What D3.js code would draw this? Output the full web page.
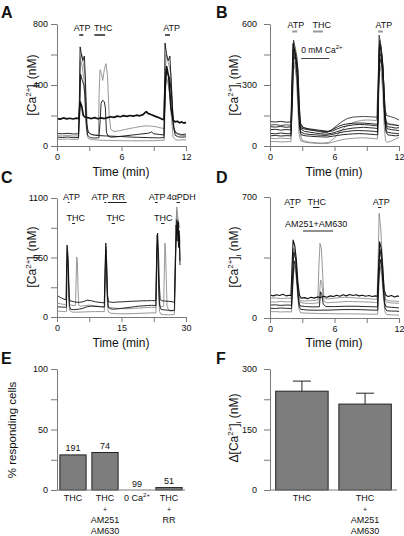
<!DOCTYPE html>
<html><head><meta charset="utf-8">
<script src="https://cdn.jsdelivr.net/npm/d3@7"></script>
<style>body{margin:0;background:#fff}svg{display:block}text{font-family:Arial,"Liberation Sans",Helvetica,sans-serif;fill:#111}</style>
</head><body>
<svg id="fig" width="404" height="536"></svg>
<script>
// ---------------- DATA ----------------
// Panel A traces [time (min), Ca (nM)]
const traceA1 = [[0,180],[0.3,176],[0.6,184],[0.9,178],[1.2,182],[1.5,177],[1.8,183],[2.05,180],[2.15,290],[2.3,260],[2.45,200],[2.6,190],[2.9,185],[3.2,180],[3.5,186],[3.8,179],[4.1,184],[4.4,180],[4.7,186],[5.0,192],[5.3,188],[5.6,196],[5.9,192],[6.2,199],[6.5,194],[6.8,200],[7.1,196],[7.4,202],[7.7,198],[8.0,206],[8.3,225],[8.5,212],[8.8,205],[9.1,196],[9.4,188],[9.7,178],[9.95,172],[10.05,400],[10.2,520],[10.4,450],[10.6,250],[10.8,170],[11.0,158],[11.2,162],[11.4,152],[11.6,158],[11.8,150],[12.0,155]];
const traceA2 = [[0,82],[0.5,80],[1.0,83],[1.5,79],[2.0,80],[2.08,300],[2.15,650],[2.25,610],[2.4,560],[2.55,590],[2.65,420],[2.75,150],[2.9,90],[3.2,75],[3.6,70],[4.0,68],[4.5,66],[5.0,65],[5.5,63],[6.0,62],[6.5,60],[7.0,58],[7.5,57],[8.0,56],[8.5,55],[9.0,54],[9.5,53],[9.95,55],[10.0,350],[10.05,675],[10.2,600],[10.35,560],[10.5,590],[10.65,380],[10.8,140],[11.0,90],[11.3,80],[11.6,75],[12,78]];
const traceA3 = [[0,68],[0.5,66],[1.0,70],[1.5,65],[2.0,67],[2.08,250],[2.15,560],[2.3,600],[2.45,540],[2.6,480],[2.7,300],[2.85,110],[3.0,85],[3.3,75],[3.6,72],[3.85,75],[3.92,350],[4.0,500],[4.15,470],[4.25,430],[4.4,500],[4.55,540],[4.7,460],[4.85,200],[5.0,110],[5.3,95],[5.8,100],[6.3,108],[6.8,115],[7.3,122],[7.8,128],[8.3,132],[8.8,130],[9.3,125],[9.7,118],[9.98,115],[10.05,400],[10.15,600],[10.3,560],[10.45,520],[10.6,470],[10.75,250],[10.9,110],[11.1,80],[11.4,72],[11.7,68],[12,70]];
const traceA4 = [[0,58],[0.5,56],[1.0,59],[1.5,55],[2.0,56],[2.1,200],[2.2,470],[2.35,430],[2.5,400],[2.6,330],[2.72,150],[2.85,70],[3.1,55],[3.5,52],[3.9,54],[4.0,150],[4.1,280],[4.25,300],[4.4,290],[4.5,250],[4.6,90],[4.75,65],[5.0,58],[5.5,60],[6.0,64],[6.5,68],[7.0,72],[7.5,76],[8.0,80],[8.5,84],[8.8,92],[9.0,80],[9.5,76],[9.95,72],[10.05,300],[10.15,500],[10.3,470],[10.5,440],[10.7,300],[10.85,120],[11.0,70],[11.3,60],[11.6,58],[12,60]];
const traceA5 = [[0,45],[0.5,44],[1.0,46],[1.5,43],[2.0,44],[2.12,280],[2.2,560],[2.35,520],[2.5,440],[2.62,260],[2.75,90],[2.9,50],[3.2,42],[3.6,40],[4.0,38],[5.0,36],[6.0,35],[7.0,34],[8.0,34],[9.0,35],[9.5,36],[9.98,38],[10.08,350],[10.2,450],[10.35,400],[10.5,330],[10.65,180],[10.8,60],[11.0,42],[11.3,38],[11.6,40],[12,41]];

// Panel B traces
const traceB1 = [[0,120],[0.5,118],[1.0,121],[1.5,117],[1.95,118],[2.05,350],[2.15,505],[2.3,470],[2.45,430],[2.6,380],[2.72,200],[2.85,110],[3.1,90],[3.5,85],[4.0,82],[4.5,78],[5.0,75],[5.4,72],[5.8,80],[6.3,95],[6.8,105],[7.3,110],[7.8,112],[8.3,113],[8.8,112],[9.3,110],[9.7,108],[10.0,108],[10.08,320],[10.18,500],[10.3,470],[10.45,420],[10.6,300],[10.72,150],[10.85,110],[11.2,105],[11.6,103],[12,100]];
const traceB2 = [[0,103],[0.5,105],[1.0,101],[1.5,104],[1.95,102],[2.05,300],[2.2,520],[2.35,480],[2.5,440],[2.65,300],[2.78,130],[2.9,95],[3.3,88],[3.8,80],[4.3,74],[4.8,68],[5.3,66],[5.7,78],[6.2,100],[6.7,120],[7.2,135],[7.7,142],[8.2,144],[8.7,145],[9.2,144],[9.6,143],[10.0,142],[10.08,350],[10.15,545],[10.3,500],[10.45,430],[10.58,300],[10.7,180],[10.85,150],[11.2,145],[11.6,138],[12,128]];
const traceB3 = [[0,95],[0.5,93],[1.0,96],[1.5,92],[1.95,94],[2.08,280],[2.18,490],[2.35,455],[2.5,400],[2.62,250],[2.75,120],[2.9,88],[3.3,82],[3.8,78],[4.3,75],[4.8,72],[5.3,70],[5.8,74],[6.3,85],[6.8,95],[7.3,100],[7.8,104],[8.3,106],[8.8,105],[9.3,103],[9.8,100],[10.02,100],[10.1,330],[10.2,520],[10.35,480],[10.5,400],[10.62,250],[10.75,120],[10.9,95],[11.3,92],[11.7,88],[12,90]];
const traceB4 = [[0,80],[0.5,82],[1.0,78],[1.5,81],[1.95,79],[2.05,250],[2.15,470],[2.3,450],[2.45,420],[2.6,330],[2.72,160],[2.85,85],[3.2,72],[3.7,68],[4.2,64],[4.7,60],[5.2,58],[5.7,62],[6.2,70],[6.7,78],[7.2,84],[7.7,88],[8.2,90],[8.7,92],[9.2,90],[9.7,88],[10.0,86],[10.08,280],[10.18,460],[10.32,440],[10.48,380],[10.6,220],[10.72,110],[10.9,85],[11.3,80],[11.7,78],[12,76]];
const traceB5 = [[0,62],[0.5,60],[1.0,64],[1.5,61],[1.95,60],[2.06,260],[2.16,500],[2.3,460],[2.48,410],[2.6,300],[2.72,140],[2.85,70],[3.2,60],[3.7,57],[4.2,55],[4.7,53],[5.2,52],[5.7,56],[6.2,62],[6.7,68],[7.2,72],[7.7,75],[8.2,76],[8.7,75],[9.2,74],[9.7,72],[10.0,70],[10.1,300],[10.2,500],[10.35,470],[10.5,380],[10.62,200],[10.75,90],[10.9,68],[11.3,64],[11.7,62],[12,60]];
const traceB6 = [[0,50],[0.5,52],[1.0,49],[1.5,51],[1.95,50],[2.08,220],[2.2,450],[2.35,420],[2.5,360],[2.62,220],[2.75,90],[2.9,55],[3.3,50],[3.8,48],[4.3,46],[4.8,45],[5.3,44],[5.8,48],[6.3,52],[6.8,56],[7.3,58],[7.8,60],[8.3,61],[8.8,60],[9.3,58],[9.8,56],[10.02,55],[10.1,260],[10.22,430],[10.38,400],[10.52,320],[10.65,160],[10.78,70],[10.95,55],[11.3,52],[11.7,50],[12,52]];
const traceB7 = [[0,38],[0.5,36],[1.0,39],[1.5,37],[1.95,36],[2.08,200],[2.2,400],[2.35,380],[2.5,330],[2.65,200],[2.8,60],[3.0,28],[3.5,20],[4.0,17],[4.5,15],[5.0,15],[5.5,18],[6.0,40],[6.5,70],[7.0,95],[7.5,110],[8.0,120],[8.5,126],[9.0,128],[9.5,127],[9.9,125],[10.05,300],[10.15,480],[10.3,450],[10.45,370],[10.58,220],[10.7,130],[10.9,115],[11.3,108],[11.7,104],[12,100]];
const traceB8 = [[0,21],[0.5,22],[1.0,20],[1.5,21],[1.95,22],[2.05,200],[2.15,430],[2.3,400],[2.45,340],[2.58,200],[2.7,60],[2.85,25],[3.3,18],[3.8,15],[4.3,13],[4.8,12],[5.3,12],[5.8,18],[6.3,26],[6.8,32],[7.3,36],[7.8,38],[8.3,40],[8.8,40],[9.3,38],[9.8,36],[10.0,35],[10.1,220],[10.2,400],[10.35,360],[10.5,260],[10.62,100],[10.75,25],[10.9,18],[11.3,25],[11.7,35],[12,42]];

// Panel C traces
const traceC1 = [[0,200],[0.8,180],[1.6,165],[2.1,160],[2.25,500],[2.35,665],[2.5,600],[2.7,400],[2.85,180],[3.0,150],[4,140],[5,135],[6,140],[7,155],[8,150],[9,140],[10,135],[11,130],[11.2,500],[11.35,684],[11.55,500],[11.75,200],[12,140],[13,135],[14,138],[15,140],[16,142],[17,145],[18,146],[19,148],[20,150],[21,150],[22,152],[23,150],[23.2,600],[23.4,776],[23.6,600],[23.8,300],[24,160],[24.5,150],[25,148],[26,145],[27,140],[27.3,130],[27.5,400],[27.7,700],[27.9,900],[28.05,760],[28.2,880],[28.35,640],[28.5,760],[28.6,520]];
const traceC2 = [[0,130],[1,120],[2,115],[2.15,115],[2.25,400],[2.35,640],[2.5,550],[2.7,300],[2.85,120],[3.2,110],[4.0,105],[4.3,108],[4.45,350],[4.6,555],[4.75,500],[4.9,250],[5.05,110],[5.5,100],[6.5,105],[7.5,110],[8.5,105],[9.5,100],[10.5,95],[11.1,95],[11.25,450],[11.4,650],[11.6,450],[11.8,150],[12,90],[13,85],[14,80],[15,78],[16,76],[17,78],[18,80],[19,82],[20,85],[21,88],[22,90],[23,88],[23.15,500],[23.35,700],[23.55,500],[23.75,200],[24,100],[24.5,95],[24.8,100],[24.95,400],[25.1,684],[25.25,600],[25.45,300],[25.6,100],[26,60],[26.5,55],[27,58],[27.35,60],[27.5,500],[27.7,800],[27.85,1017],[28.0,950],[28.2,900],[28.4,850],[28.6,820]];
const traceC3 = [[0,95],[1,92],[2,90],[2.2,90],[2.3,450],[2.4,600],[2.55,520],[2.75,250],[2.9,100],[3.2,70],[4,68],[5,72],[6,80],[7,95],[8,100],[9,98],[10,95],[11,92],[11.2,400],[11.35,620],[11.5,480],[11.7,200],[11.9,90],[12.5,75],[13,72],[14,75],[15,80],[16,85],[17,90],[18,95],[19,100],[20,103],[21,106],[22,108],[23,106],[23.15,500],[23.3,760],[23.45,620],[23.65,300],[23.85,110],[24.2,70],[25,65],[26,62],[27,60],[27.3,62],[27.5,500],[27.7,850],[27.9,700],[28.1,880],[28.25,650],[28.4,800],[28.55,560],[28.6,480]];
const traceC4 = [[0,55],[1,52],[2,50],[2.2,50],[2.3,300],[2.4,500],[2.55,450],[2.75,200],[2.9,60],[3.5,45],[5,45],[7,48],[9,50],[11,50],[11.2,300],[11.35,550],[11.5,400],[11.7,150],[11.9,50],[12.5,35],[14,30],[16,30],[18,32],[20,35],[22,38],[23,38],[23.15,400],[23.3,650],[23.45,500],[23.65,200],[23.85,50],[24.2,25],[25,22],[26,20],[27,22],[27.3,25],[27.5,400],[27.7,900],[27.85,980],[28.0,800],[28.2,700],[28.4,750],[28.6,700]];

// Panel D traces
const traceD1 = [[0,133],[0.3,128],[0.6,135],[0.9,130],[1.2,138],[1.5,128],[1.8,132],[1.95,130],[2.05,300],[2.15,451],[2.3,420],[2.45,340],[2.6,200],[2.75,130],[2.9,115],[3.2,118],[3.5,112],[3.8,120],[4.1,115],[4.4,122],[4.7,118],[5.0,126],[5.3,120],[5.6,128],[5.9,124],[6.2,132],[6.5,126],[6.8,134],[7.1,128],[7.4,136],[7.7,130],[8.0,134],[8.3,128],[8.6,132],[8.9,126],[9.2,130],[9.5,124],[9.8,128],[10.0,126],[10.1,300],[10.2,441],[10.35,400],[10.5,280],[10.62,160],[10.8,130],[11.0,124],[11.3,130],[11.6,122],[11.9,128],[12,125]];
const traceD2 = [[0,114],[0.5,116],[1.0,112],[1.5,115],[1.95,113],[2.08,250],[2.2,400],[2.35,360],[2.5,260],[2.65,130],[2.8,100],[3.2,98],[3.7,100],[4.2,102],[4.45,105],[4.55,300],[4.65,432],[4.78,400],[4.9,250],[5.0,130],[5.2,110],[5.6,112],[6.0,115],[6.5,118],[7.0,120],[7.5,118],[8.0,116],[8.5,114],[9.0,112],[9.5,110],[9.95,108],[10.05,300],[10.15,606],[10.3,520],[10.45,350],[10.6,180],[10.75,110],[11.0,100],[11.5,98],[12,96]];
const traceD3 = [[0,94],[0.5,92],[1.0,96],[1.5,93],[2.0,94],[2.1,260],[2.2,405],[2.35,370],[2.5,270],[2.65,140],[2.8,90],[3.2,85],[3.7,84],[4.2,86],[4.55,88],[4.62,150],[4.7,220],[4.8,210],[4.9,150],[5.05,95],[5.3,88],[5.8,90],[6.3,92],[6.8,94],[7.3,96],[7.8,95],[8.3,94],[8.8,93],[9.3,92],[9.8,90],[10.0,90],[10.1,280],[10.2,384],[10.35,350],[10.5,250],[10.65,130],[10.8,92],[11.2,88],[11.6,86],[12,85]];
const traceD4 = [[0,75],[0.5,76],[1.0,73],[1.5,75],[2.0,74],[2.1,250],[2.22,380],[2.38,340],[2.52,220],[2.65,100],[2.8,70],[3.3,66],[4,64],[4.6,65],[4.7,152],[4.82,140],[4.95,80],[5.2,66],[6,66],[7,68],[8,68],[9,66],[10.0,64],[10.1,260],[10.22,400],[10.38,340],[10.52,200],[10.65,90],[10.8,65],[11.3,62],[11.7,60],[12,58]];
const traceD5 = [[0,56],[0.5,55],[1.0,58],[1.5,56],[2.0,55],[2.12,200],[2.24,330],[2.4,290],[2.55,180],[2.7,70],[2.85,50],[3.5,46],[4.5,45],[5.5,46],[6.5,48],[7.5,49],[8.5,48],[9.5,46],[10.02,45],[10.12,220],[10.25,340],[10.4,290],[10.55,160],[10.7,60],[10.85,42],[11.3,40],[11.7,40],[12,38]];
const traceD6 = [[0,36],[0.5,37],[1.0,35],[1.5,36],[2.0,35],[2.12,180],[2.25,300],[2.4,260],[2.55,150],[2.7,50],[2.85,30],[3.5,28],[4.5,26],[5.5,25],[6.5,24],[7.5,24],[8.5,23],[9.5,22],[10.02,22],[10.12,180],[10.25,300],[10.4,240],[10.55,120],[10.7,35],[10.85,20],[11.3,18],[11.7,17],[12,17]];

// Drug application annotations: text centre (min), bar start/end (min), row
const annotA = [{label:"ATP",tx:2.33,t0:2.07,t1:2.45,row:0},{label:"THC",tx:4.3,t0:3.47,t1:4.47,row:0},{label:"ATP",tx:10.67,t0:10.05,t1:10.51,row:0}];
const annotB = [{label:"ATP",tx:2.4,t0:2.07,t1:2.54,row:0},{label:"THC",tx:4.82,t0:4.0,t1:4.93,row:0},{label:"ATP",tx:10.6,t0:10.05,t1:10.5,row:0}];
const annotBCa = {label:"0 mM Ca",sup:"2+",t0:2.9,t1:5.5};
const annotC = [{label:"ATP",tx:3.37,t0:2.5,t1:2.9,row:0},{label:"ATP",tx:10.0,t0:11.0,t1:11.5,row:0},{label:"RR",tx:14.3,t0:11.8,t1:16.2,row:0},{label:"ATP",tx:23.3,t0:22.8,t1:23.4,row:0},{label:"4\u03b1PDH",tx:28.9,t0:27.8,t1:28.6,row:0},{label:"THC",tx:4.38,t0:3.5,t1:4.2,row:1},{label:"THC",tx:13.65,t0:12.7,t1:13.5,row:1},{label:"THC",tx:24.7,t0:24.2,t1:25.0,row:1}];
const annotD = [{label:"ATP",tx:2.1,t0:1.9,t1:2.2,row:0},{label:"THC",tx:4.35,t0:4.0,t1:4.6,row:0},{label:"ATP",tx:10.35,t0:10.05,t1:10.35,row:0},{label:"AM251+AM630",tx:4.3,t0:3.07,t1:5.86,row:1}];

// Axis ticks
const xTicks12 = [0,3,6,9,12], xLabels12 = [0,6,12];
const xTicks30 = [0,7.5,15,22.5,30], xLabels30 = [0,15,30];
const yTicksA = [0,200,400,600,800], yLabelsA = [0,400,800];
const yTicksB = [0,150,300,450,600], yLabelsB = [0,300,600];
const yTicksC = [0,275,550,825,1100], yLabelsC = [0,550,1100];
const yTicksD = [0,350,700], yLabelsD = [0,700];

// Panel E
const catsE = ["THC","THC+AM","0Ca","THC+RR"];
const pctE = [29,31,0,2];
const nE = [191,74,99,51];
const yTicksE = [0,25,50,75,100], yLabelsE = [0,50,100];
// Panel F
const catsF = ["THC","THC+AM"];
const deltaF = [245,213];
const errF = [25,27];
const yTicksF = [0,75,150,225,300], yLabelsF = [0,150,300];

// ---------------- DRAWING ----------------
const svg = d3.select("#fig");
const AX = "#7a7a7a", GRAY = "#8c8c8c", BLACK = "#111";

function styleAxis(g){
  g.select(".domain").attr("stroke",AX).attr("stroke-width",1);
  g.selectAll(".tick line").attr("stroke",AX);
  g.selectAll(".tick text").attr("fill","#111").style("font-size","9px");
}

function yAxis(x0,y,ticks,labels,pad){
  const g = svg.append("g").attr("transform",`translate(${x0},0)`)
    .call(d3.axisLeft(y).tickValues(ticks).tickFormat(d=>labels.includes(d)?d:"").tickSize(6).tickSizeOuter(0).tickPadding(pad));
  styleAxis(g);
}
function xAxis(y1,x,ticks,labels){
  const g = svg.append("g").attr("transform",`translate(0,${y1})`)
    .call(d3.axisBottom(x).tickValues(ticks).tickFormat(d=>labels.includes(d)?d:"").tickSize(5).tickSizeOuter(0).tickPadding(3));
  styleAxis(g);
}
function caTitle(x,y,prefix){
  const t = svg.append("text").attr("transform",`translate(${x},${y}) rotate(-90)`).attr("text-anchor","middle").style("font-size","12px");
  t.append("tspan").text(prefix+"[Ca");
  t.append("tspan").text("2+").style("font-size","8px").attr("dy",-5);
  t.append("tspan").text("]").attr("dy",5);
  t.append("tspan").text("i").style("font-size","8px").attr("dy",3);
  t.append("tspan").text(" (nM)").attr("dy",-3);
}
function panelLetter(txt,x,y){
  svg.append("text").attr("x",x).attr("y",y).text(txt).style("font-size","16px").style("font-weight","bold").attr("fill","#000");
}
function timeTitle(cx,y){
  svg.append("text").attr("x",cx).attr("y",y).attr("text-anchor","middle").style("font-size","12px").text("Time (min)");
}

function tracePanel(p){
  const x = d3.scaleLinear().domain(p.xd).range([p.x0,p.x1]);
  const y = d3.scaleLinear().domain(p.yd).range([p.y1,p.y0]);
  const line = d3.line().x(d=>x(d[0])).y(d=>y(d[1]));
  const g = svg.append("g");
  p.traces.forEach(tr=>{
    g.append("path").datum(tr.data).attr("d",line).attr("fill","none")
      .attr("stroke",tr.color).attr("stroke-width",tr.w).attr("stroke-linejoin","round");
  });
  yAxis(p.x0,y,p.yt,p.yl,p.pad);
  xAxis(p.y1,x,p.xt,p.xl);
  p.annot.forEach(a=>{
    const ty = p.rowText[a.row], by = p.rowBar[a.row];
    svg.append("text").attr("x",x(a.tx)).attr("y",ty).attr("text-anchor","middle").style("font-size","9px").text(a.label);
    svg.append("line").attr("x1",x(a.t0)).attr("x2",x(a.t1)).attr("y1",by).attr("y2",by)
      .attr("stroke",p.barColor).attr("stroke-width",p.barW);
  });
  return {x,y};
}

// Panel A
tracePanel({x0:57,x1:186,y0:24,y1:146,xd:[0,12],yd:[0,800],xt:xTicks12,xl:xLabels12,yt:yTicksA,yl:yLabelsA,pad:3,
  traces:[{data:traceA5,color:GRAY,w:0.9},{data:traceA3,color:GRAY,w:0.9},{data:traceA4,color:BLACK,w:0.9},{data:traceA2,color:BLACK,w:0.9},{data:traceA1,color:BLACK,w:1.7}],
  annot:annotA,rowText:[31],rowBar:[35],barColor:"#222",barW:1.5});
panelLetter("A",1,18); caTitle(36,85,""); timeTitle(121,176);

// Panel B
const pB = tracePanel({x0:270,x1:399,y0:24,y1:146,xd:[0,12],yd:[0,600],xt:xTicks12,xl:xLabels12,yt:yTicksB,yl:yLabelsB,pad:7,
  traces:[{data:traceB8,color:GRAY,w:0.9},{data:traceB7,color:GRAY,w:0.9},{data:traceB6,color:BLACK,w:0.9},{data:traceB5,color:BLACK,w:0.9},{data:traceB4,color:BLACK,w:0.9},{data:traceB3,color:BLACK,w:0.9},{data:traceB2,color:"#333",w:0.9},{data:traceB1,color:BLACK,w:0.9}],
  annot:annotB,rowText:[28],rowBar:[31.5],barColor:"#999",barW:2});
{
  const t = svg.append("text").attr("x",pB.x(annotBCa.t0)).attr("y",53).style("font-size","8.5px");
  t.append("tspan").text(annotBCa.label);
  t.append("tspan").text(annotBCa.sup).style("font-size","6px").attr("dy",-4);
  svg.append("line").attr("x1",pB.x(annotBCa.t0)).attr("x2",pB.x(annotBCa.t1)).attr("y1",58.5).attr("y2",58.5).attr("stroke","#444").attr("stroke-width",1);
}
panelLetter("B",216,18); caTitle(238,85,""); timeTitle(334,176);

// Panel C
tracePanel({x0:57,x1:186,y0:198,y1:317,xd:[0,30],yd:[0,1100],xt:xTicks30,xl:xLabels30,yt:yTicksC,yl:yLabelsC,pad:3,
  traces:[{data:traceC4,color:GRAY,w:0.9},{data:traceC2,color:GRAY,w:0.9},{data:traceC3,color:BLACK,w:0.9},{data:traceC1,color:BLACK,w:0.9}],
  annot:annotC,rowText:[200,221],rowBar:[202.5,223.5],barColor:"#222",barW:1});
panelLetter("C",1,183); caTitle(36,257,""); timeTitle(121,347);

// Panel D
tracePanel({x0:270,x1:399,y0:197,y1:318,xd:[0,12],yd:[0,700],xt:xTicks12,xl:xLabels12,yt:yTicksD,yl:yLabelsD,pad:7,
  traces:[{data:traceD6,color:GRAY,w:0.9},{data:traceD3,color:GRAY,w:0.9},{data:traceD2,color:GRAY,w:0.9},{data:traceD5,color:BLACK,w:0.9},{data:traceD4,color:BLACK,w:0.9},{data:traceD1,color:BLACK,w:1.1}],
  annot:annotD,rowText:[205,227],rowBar:[207.5,231],barColor:"#222",barW:1});
panelLetter("D",216,183); caTitle(238,257,""); timeTitle(334,347);

// Panel E
{
  const x0=57,x1=185,y0=369,y1=490;
  const x = d3.scaleBand().domain(catsE).range([x0,x1]).paddingInner(0.18).paddingOuter(0.09);
  const y = d3.scaleLinear().domain([0,100]).range([y1,y0]);
  svg.append("g").selectAll("rect").data(catsE).join("rect")
    .attr("x",d=>x(d)).attr("width",x.bandwidth())
    .attr("y",(d,i)=>y(pctE[i])).attr("height",(d,i)=>y1-y(pctE[i]))
    .attr("fill","#7d7d7d").attr("stroke","#222").attr("stroke-width",1);
  svg.append("g").selectAll("text").data(catsE).join("text")
    .attr("x",d=>x(d)+x.bandwidth()/2).attr("y",(d,i)=>y(pctE[i])-3.5)
    .attr("text-anchor","middle").style("font-size","9px").text((d,i)=>nE[i]);
  yAxis(x0,y,yTicksE,yLabelsE,3);
  svg.append("line").attr("x1",x0).attr("x2",x1).attr("y1",y1).attr("y2",y1).attr("stroke",AX);
  const lines = {"THC":["THC"],"THC+AM":["THC","+","AM251","AM630"],"0Ca":["0 Ca"],"THC+RR":["THC","+","RR"]};
  catsE.forEach(c=>{
    const cx = x(c)+x.bandwidth()/2;
    lines[c].forEach((s,i)=>{
      const t = svg.append("text").attr("x",cx).attr("y",500.5+i*11.3).attr("text-anchor","middle").style("font-size", s==="+"?"7px":"9px");
      t.append("tspan").text(s);
      if(c==="0Ca"){ t.append("tspan").text("2+").style("font-size","6px").attr("dy",-4); }
    });
  });
  svg.append("text").attr("transform","translate(16,430) rotate(-90)").attr("text-anchor","middle").style("font-size","11.5px").text("% responding cells");
  panelLetter("E",1,364);
}

// Panel F
{
  const x0=270,x1=397,y0=369,y1=490;
  const x = d3.scaleBand().domain(catsF).range([x0,x1]).paddingInner(0.17).paddingOuter(0.09);
  const y = d3.scaleLinear().domain([0,300]).range([y1,y0]);
  svg.append("g").selectAll("line.err").data(catsF).join("line")
    .attr("x1",d=>x(d)+x.bandwidth()/2).attr("x2",d=>x(d)+x.bandwidth()/2)
    .attr("y1",(d,i)=>y(deltaF[i])).attr("y2",(d,i)=>y(deltaF[i]+errF[i])).attr("stroke","#222");
  svg.append("g").selectAll("line.cap").data(catsF).join("line")
    .attr("x1",d=>x(d)+x.bandwidth()/2-9).attr("x2",d=>x(d)+x.bandwidth()/2+9)
    .attr("y1",(d,i)=>y(deltaF[i]+errF[i])).attr("y2",(d,i)=>y(deltaF[i]+errF[i])).attr("stroke","#222");
  svg.append("g").selectAll("rect").data(catsF).join("rect")
    .attr("x",d=>x(d)).attr("width",x.bandwidth())
    .attr("y",(d,i)=>y(deltaF[i])).attr("height",(d,i)=>y1-y(deltaF[i]))
    .attr("fill","#7d7d7d").attr("stroke","#222").attr("stroke-width",1);
  yAxis(x0,y,yTicksF,yLabelsF,7);
  svg.append("line").attr("x1",x0).attr("x2",x1).attr("y1",y1).attr("y2",y1).attr("stroke",AX);
  const lines = {"THC":["THC"],"THC+AM":["THC","+","AM251","AM630"]};
  catsF.forEach(c=>{
    const cx = x(c)+x.bandwidth()/2;
    lines[c].forEach((s,i)=>{
      svg.append("text").attr("x",cx).attr("y",500.5+i*11.3).attr("text-anchor","middle").style("font-size", s==="+"?"7px":"9px").text(s);
    });
  });
  caTitle(238,428,"\u0394");
  panelLetter("F",216,364);
}
</script>
</body></html>
